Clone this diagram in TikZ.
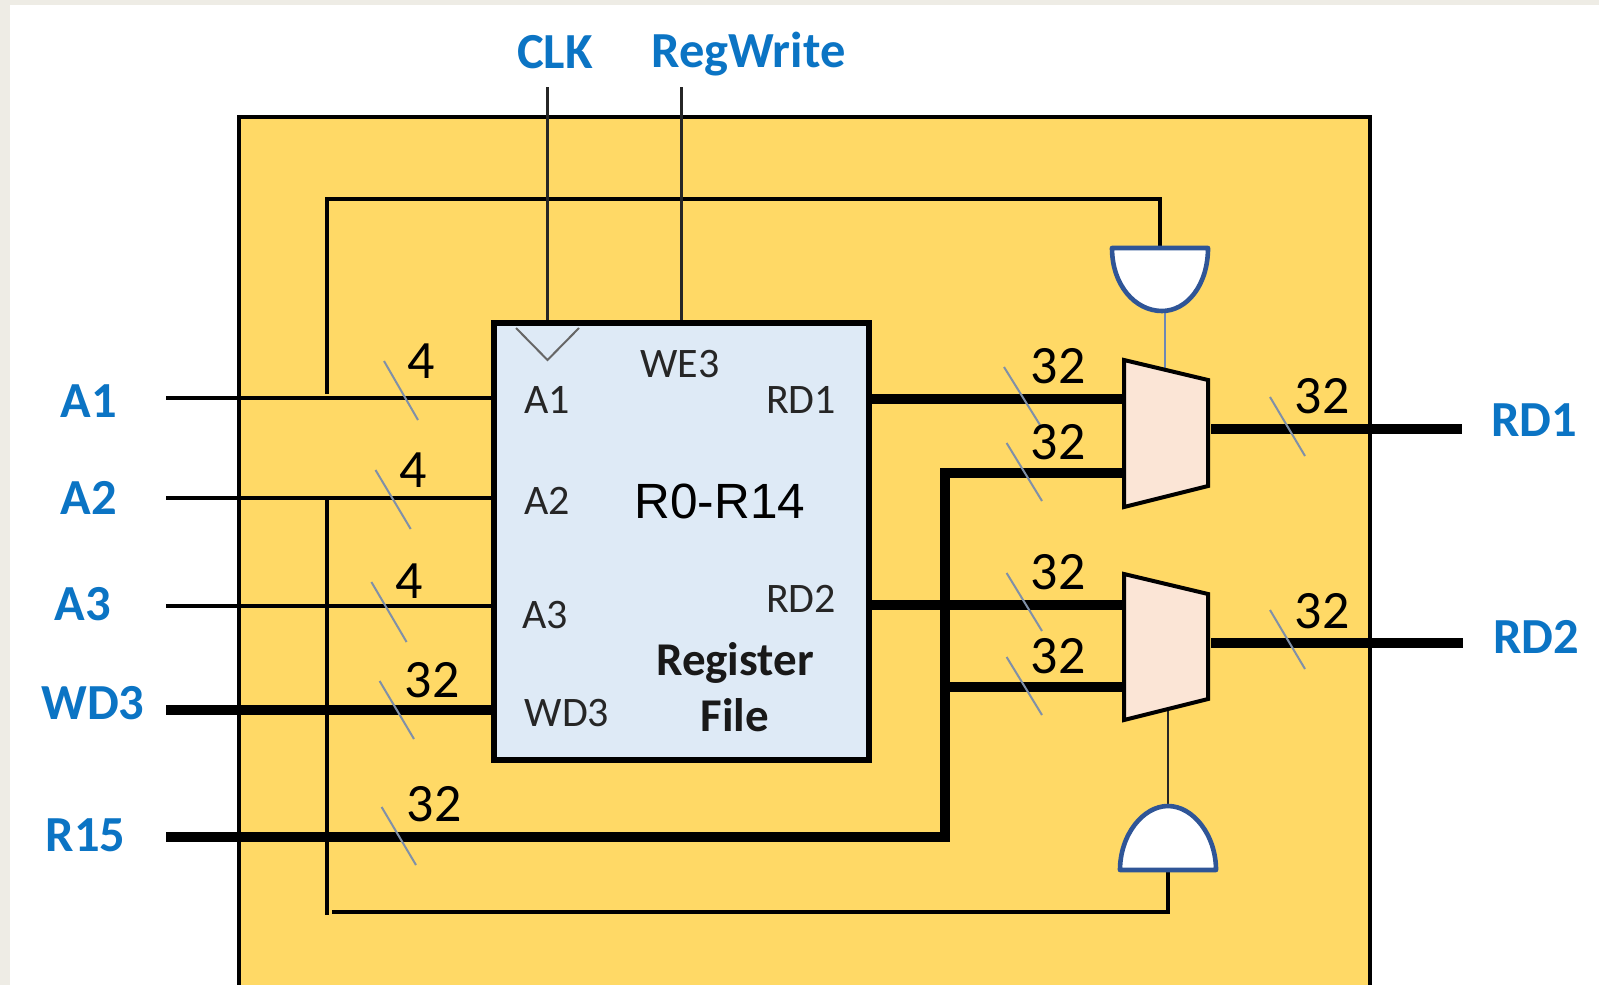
\documentclass[tikz,border=0pt]{standalone}
\usepackage{fontspec}
\setmainfont{Carlito}
\newfontfamily\arialfont{Liberation Sans}
\definecolor{pagebg}{HTML}{EEECE5}
\definecolor{boxyellow}{HTML}{FFD966}
\definecolor{regblue}{HTML}{DEEAF6}
\definecolor{muxpeach}{HTML}{FBE5D6}
\definecolor{labelblue}{HTML}{0B74C4}
\definecolor{gateblue}{HTML}{2F5597}
\definecolor{slashgray}{HTML}{8090A8}
\tikzset{
  sig/.style={draw=black,line width=4pt,line cap=butt},
  bus/.style={draw=black,line width=10pt,line cap=butt},
  ctrl/.style={draw=black,line width=4pt,line join=miter},
  thinline/.style={draw=black!85,line width=2.2pt},
  slash/.style={draw=slashgray,line width=2pt},
  muxshape/.style={draw=black,line width=4pt,fill=muxpeach,line join=miter},
  gateshape/.style={draw=gateblue,line width=4.6pt,fill=white,line join=round},
  extlabel/.style={anchor=base,text=labelblue,font=\fontsize{50.5}{50.5}\selectfont\bfseries,inner sep=0pt},
  widthlabel/.style={anchor=base,text=black,font=\fontsize{54}{54}\selectfont,inner sep=0pt},
  pinlabel/.style={anchor=base,text=black!85,font=\fontsize{42}{42}\selectfont,inner sep=0pt},
  boldlabel/.style={anchor=base,text=black!90,font=\fontsize{47}{47}\selectfont\bfseries,inner sep=0pt},
}
\begin{document}
\begin{tikzpicture}[x=1pt,y=-1pt]
\useasboundingbox (0,0) rectangle (1599,985);
\fill[pagebg] (0,0) rectangle (1599,985);
\fill[white] (10,5) rectangle (1599,985);
% outer box
\fill[boxyellow] (239,117) rectangle (1370,985);
\draw[black,line width=4pt,line join=miter] (239,985) -- (239,117) -- (1370,117) -- (1370,985);

% named points
\coordinate (clkin) at (547.5,87);  \coordinate (clkpin) at (547.5,323);
\coordinate (wein) at (681.5,87);   \coordinate (wepin) at (681.5,323);
\coordinate (a1in) at (166,398);    \coordinate (a1pin) at (494,398);
\coordinate (a2in) at (166,498);    \coordinate (a2pin) at (494,498);
\coordinate (a3in) at (166,606);    \coordinate (a3pin) at (494,606);
\coordinate (wdin) at (166,710);    \coordinate (wdpin) at (494,710);
\coordinate (r15in) at (166,837);   \coordinate (r15turn) at (945,837);
\coordinate (bustop) at (945,473);  \coordinate (busmid) at (945,687);
\coordinate (rd1pin) at (869,399);  \coordinate (m1a) at (1124,399);
\coordinate (m1b) at (1124,473);
\coordinate (rd2pin) at (869,605);  \coordinate (m2a) at (1124,605);
\coordinate (m2b) at (1124,687);
\coordinate (m1out) at (1211,429);  \coordinate (rd1end) at (1462,429);
\coordinate (m2out) at (1211,643);  \coordinate (rd2end) at (1463,643);
\coordinate (ctrlA) at (326.5,394); \coordinate (ctrlB) at (326.5,199); \coordinate (ctrlC) at (1160,199);
\coordinate (g1top) at (1160,248);  \coordinate (g1bot) at (1165,312); \coordinate (m1sel) at (1165,370);
\coordinate (ctrlD) at (326.5,498); \coordinate (ctrlE) at (326.5,915);
\coordinate (ctrlF) at (332,912);   \coordinate (ctrlG) at (1168,912);
\coordinate (g2bot) at (1168,870);  \coordinate (g2top) at (1168,806); \coordinate (m2sel) at (1168,710);

% control wires and wires behind gates
\draw[ctrl] (ctrlA) -- (ctrlB) -- (ctrlC) -- (g1top);
\draw[ctrl] (ctrlD) -- (ctrlE);
\draw[ctrl] (ctrlF) -- (ctrlG) -- (g2bot);
\draw[slash,draw=gateblue!70] (g1bot) -- (m1sel);
\draw[thinline] (g2top) -- (m2sel);
\draw[thinline] (clkin) -- (clkpin);
\draw[thinline] (wein) -- (wepin);

% register file
\node[draw=black,line width=6pt,fill=regblue,minimum width=375pt,minimum height=437pt,inner sep=0pt,outer sep=0pt] (regfile) at (681,541.5) {};
\draw[draw=black!60,line width=2pt] (516,328) -- (547.5,360) -- (579,328);

% wires
\draw[sig] (a1in) -- (a1pin);
\draw[sig] (a2in) -- (a2pin);
\draw[sig] (a3in) -- (a3pin);
\draw[bus] (wdin) -- (wdpin);
\draw[bus] (r15in) -- (r15turn);
\draw[draw=black,line width=10pt,line join=miter] (m1b) -- (bustop) -- (945,842);
\draw[bus] (busmid) -- (m2b);
\draw[bus] (rd1pin) -- (m1a);
\draw[bus] (rd2pin) -- (m2a);
\draw[bus] (m1out) -- (rd1end);
\draw[bus] (m2out) -- (rd2end);

% muxes and gates
\draw[muxshape] (1124,360) -- (1208,380) -- (1208,486) -- (1124,507) -- cycle;
\draw[muxshape] (1124,574) -- (1208,594) -- (1208,699) -- (1124,720) -- cycle;
\draw[gateshape] (1112,248) .. controls (1112,285) and (1135,311) .. (1162,311) .. controls (1187,311) and (1208,285) .. (1208,248) -- cycle;
\draw[gateshape] (1120,870) .. controls (1120,835) and (1143,806) .. (1168,806) .. controls (1193,806) and (1216,835) .. (1216,870) -- cycle;

% width slashes
\draw[slash] (384,361) -- (418,420);
\draw[slash] (375.5,470) -- (410.7,529);
\draw[slash] (371.4,582) -- (406.6,642);
\draw[slash] (379.6,681) -- (414,739);
\draw[slash] (381.6,807) -- (416,865);
\draw[slash] (1004,367) -- (1040,425);
\draw[slash] (1006.6,443) -- (1042,501);
\draw[slash] (1006.6,573) -- (1042,631);
\draw[slash] (1006.6,657) -- (1042,715);
\draw[slash] (1270,397) -- (1305,456);
\draw[slash] (1270,610) -- (1305,669);

% external labels
\node[extlabel] (lclk) at (555,68) {CLK};
\node[extlabel] (lrw) at (748.5,67) {RegWrite};
\node[extlabel] (la1) at (89,417) {A1};
\node[extlabel] (la2) at (89,514) {A2};
\node[extlabel] (la3) at (83,620) {A3};
\node[extlabel] (lwd) at (93,719) {WD3};
\node[extlabel] (lr15) at (85.5,851) {R15};
\node[extlabel] (lrd1) at (1534,436) {RD1};
\node[extlabel] (lrd2) at (1536,653) {RD2};

% width labels
\node[widthlabel] (w1) at (421,378) {4};
\node[widthlabel] (w2) at (413,487) {4};
\node[widthlabel] (w3) at (409,598) {4};
\node[widthlabel] (w4) at (432,697) {32};
\node[widthlabel] (w5) at (434,821) {32};
\node[widthlabel] (w6) at (1058,383) {32};
\node[widthlabel] (w7) at (1058,459) {32};
\node[widthlabel] (w8) at (1058,589) {32};
\node[widthlabel] (w9) at (1058,673) {32};
\node[widthlabel] (w10) at (1322,413) {32};
\node[widthlabel] (w11) at (1322,628) {32};

% pin labels
\node[pinlabel] (pwe) at (680,377) {WE3};
\node[pinlabel] (pa1) at (547,413) {A1};
\node[pinlabel] (prd1) at (801,413) {RD1};
\node[pinlabel] (pa2) at (547,514) {A2};
\node[pinlabel] (pa3) at (545,628) {A3};
\node[pinlabel] (prd2) at (801,612) {RD2};
\node[pinlabel] (pwd) at (567,726) {WD3};
\node[anchor=base,inner sep=0pt,font=\arialfont\fontsize{49.5}{49.5}\selectfont] (rrange) at (720,518) {R0-R14};
\node[boldlabel] (rf1) at (735,675) {Register};
\node[boldlabel] (rf2) at (735,731) {File};
\end{tikzpicture}
\end{document}
